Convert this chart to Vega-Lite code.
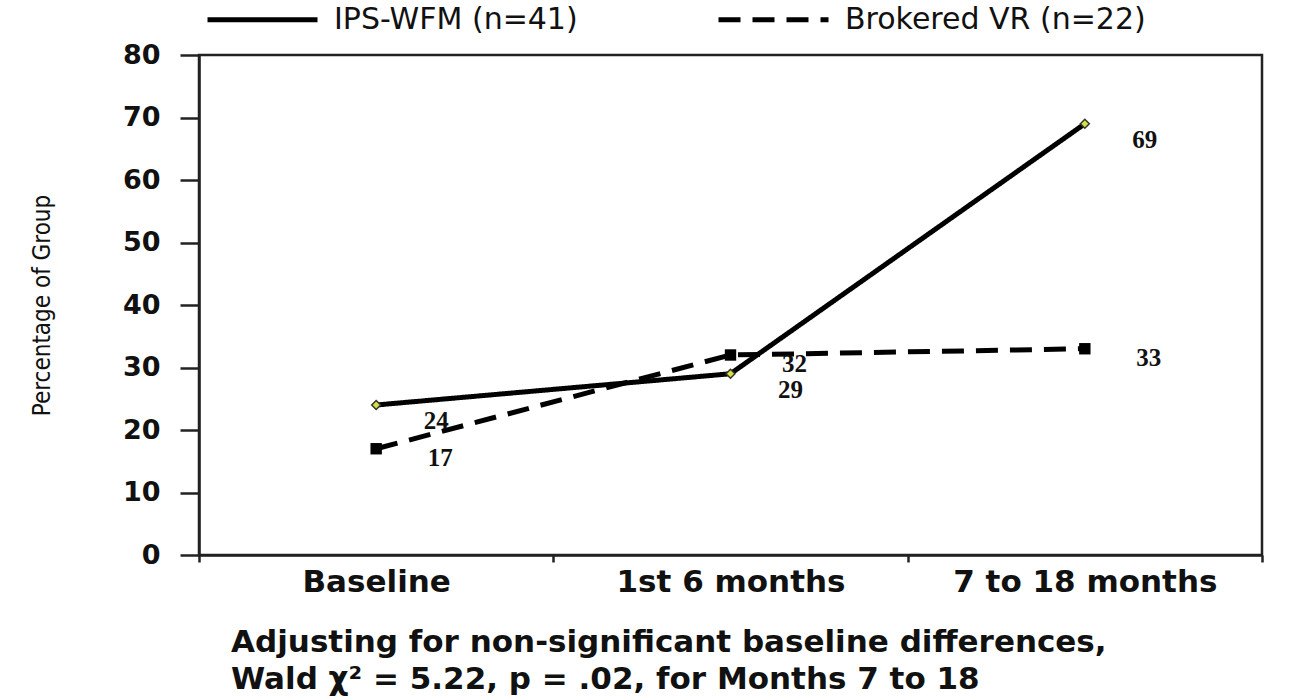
{
  "$schema": "https://vega.github.io/schema/vega-lite/v6.json",
  "width": 1063,
  "height": 500,
  "autosize": {"type": "none"},
  "padding": {"left": 199, "top": 55, "right": 50, "bottom": 145},
  "background": "white",
  "config": {
    "view": {"stroke": "#222", "strokeWidth": 2.5},
    "font": "DejaVu Sans"
  },
  "title": {
    "text": ["Adjusting for non-significant baseline differences,", "Wald χ² = 5.22, p = .02, for Months 7 to 18"],
    "orient": "bottom",
    "anchor": "start",
    "dx": 201,
    "offset": 31,
    "font": "DejaVu Sans",
    "fontSize": 31,
    "fontWeight": "bold",
    "lineHeight": 37,
    "color": "#111"
  },
  "data": {
    "values": [
      {"period": "Baseline", "group": "IPS-WFM (n=41)", "value": 24},
      {"period": "1st 6 months", "group": "IPS-WFM (n=41)", "value": 29},
      {"period": "7 to 18 months", "group": "IPS-WFM (n=41)", "value": 69},
      {"period": "Baseline", "group": "Brokered VR (n=22)", "value": 17},
      {"period": "1st 6 months", "group": "Brokered VR (n=22)", "value": 32},
      {"period": "7 to 18 months", "group": "Brokered VR (n=22)", "value": 33}
    ]
  },
  "encoding": {
    "x": {
      "field": "period",
      "type": "nominal",
      "sort": ["Baseline", "1st 6 months", "7 to 18 months"],
      "scale": {"type": "band", "paddingInner": 0, "paddingOuter": 0},
      "axis": {
        "title": null,
        "labelAngle": 0,
        "domainColor": "#222",
        "domainWidth": 2.5,
        "tickColor": "#222",
        "tickWidth": 2.5,
        "tickSize": 7,
        "tickBand": "extent",
        "labelFont": "DejaVu Sans",
        "labelFontSize": 31,
        "labelFontWeight": "bold",
        "labelColor": "#111",
        "labelPadding": 5,
        "labelLimit": 500
      }
    },
    "y": {
      "field": "value",
      "type": "quantitative",
      "scale": {"domain": [0, 80], "nice": false},
      "axis": {
        "values": [0, 10, 20, 30, 40, 50, 60, 70, 80],
        "grid": false,
        "domainColor": "#222",
        "domainWidth": 2.5,
        "tickColor": "#222",
        "tickWidth": 2.5,
        "tickSize": 19,
        "labelFont": "DejaVu Sans",
        "labelFontSize": 27,
        "labelFontWeight": "bold",
        "labelColor": "#111",
        "labelPadding": 20,
        "labelFlush": false,
        "labelOverlap": false,
        "title": "Percentage of Group",
        "titleFont": "DejaVu Sans Condensed, Liberation Sans Narrow, Liberation Sans",
        "titleFontSize": 24,
        "titleFontWeight": "normal",
        "titleColor": "#111",
        "titleX": -157,
        "titleY": 250,
        "titleAngle": -90,
        "titleAlign": "center",
        "titleBaseline": "middle"
      }
    }
  },
  "layer": [
    {
      "mark": {"type": "line", "color": "#000", "strokeWidth": 5},
      "encoding": {
        "strokeDash": {
          "field": "group",
          "type": "nominal",
          "scale": {"domain": ["IPS-WFM (n=41)", "Brokered VR (n=22)"], "range": [[1, 0], [22, 12]]},
          "legend": {
            "title": null,
            "orient": "none",
            "legendX": 6,
            "legendY": -93,
            "direction": "horizontal",
            "symbolType": "stroke",
            "symbolSize": 12100,
            "symbolStrokeWidth": 5,
            "symbolStrokeColor": "#000",
            "labelFont": "DejaVu Sans",
            "labelFontSize": 30,
            "labelColor": "#111",
            "labelOffset": 14,
            "labelLimit": 700,
            "columnPadding": 130
          }
        }
      }
    },
    {
      "transform": [{"filter": "datum.group === 'Brokered VR (n=22)'"}],
      "mark": {"type": "point", "shape": "square", "filled": true, "color": "#000", "size": 130, "opacity": 1}
    },
    {
      "transform": [{"filter": "datum.group === 'IPS-WFM (n=41)'"}],
      "mark": {"type": "point", "shape": "diamond", "filled": true, "fill": "#d8e040", "stroke": "#333", "strokeWidth": 1.5, "size": 80, "opacity": 1}
    },
    {
      "transform": [{"filter": "datum.group === 'IPS-WFM (n=41)'"}],
      "mark": {"type": "text", "font": "Liberation Serif", "fontWeight": "bold", "fontSize": 25, "dx": 60, "dy": 16, "align": "center", "baseline": "middle", "color": "#111"},
      "encoding": {"text": {"field": "value", "type": "quantitative"}}
    },
    {
      "transform": [{"filter": "datum.group === 'Brokered VR (n=22)'"}],
      "mark": {"type": "text", "font": "Liberation Serif", "fontWeight": "bold", "fontSize": 25, "dx": 64, "dy": 9, "align": "center", "baseline": "middle", "color": "#111"},
      "encoding": {"text": {"field": "value", "type": "quantitative"}}
    }
  ]
}
